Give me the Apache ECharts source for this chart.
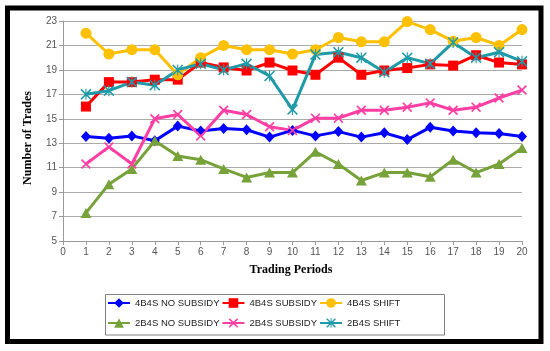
<!DOCTYPE html>
<html>
<head>
<meta charset="utf-8">
<script src="https://cdn.jsdelivr.net/npm/echarts@6/dist/echarts.min.js"></script>
<style>
html,body{margin:0;padding:0;background:#fff;}
#chart{width:550px;height:351px;}
</style>
</head>
<body>
<div id="chart"></div>
<script>
// ---- data ----
const periods = [1,2,3,4,5,6,7,8,9,10,11,12,13,14,15,16,17,18,19,20];
const seriesNames = ['4B4S NO SUBSIDY','4B4S SUBSIDY','4B4S SHIFT','2B4S NO SUBSIDY','2B4S SUBSIDY','2B4S SHIFT'];
const noSubsidy4 = [13.55,13.4,13.6,13.2,14.4,14.0,14.2,14.1,13.5,14.05,13.6,13.95,13.5,13.85,13.3,14.3,14.0,13.85,13.8,13.55];
const subsidy4   = [16.0,18.0,18.0,18.2,18.2,19.6,19.2,18.95,19.6,18.95,18.6,20.0,18.6,18.95,19.15,19.45,19.35,20.2,19.6,19.45];
const shift4     = [22.0,20.3,20.65,20.65,18.6,20.0,21.0,20.65,20.65,20.3,20.65,21.65,21.3,21.3,22.95,22.3,21.35,21.65,21.0,22.3];
const noSubsidy2 = [7.3,9.65,10.9,13.2,11.95,11.65,10.9,10.2,10.6,10.6,12.3,11.3,9.95,10.6,10.6,10.25,11.65,10.6,11.3,12.6];
const subsidy2   = [11.3,12.7,11.3,15.0,15.35,13.6,15.7,15.35,14.35,14.05,15.05,15.05,15.7,15.7,15.95,16.3,15.7,15.95,16.7,17.35];
const shift2     = [17.0,17.3,18.0,17.75,19.0,19.5,19.0,19.5,18.5,15.75,20.25,20.45,20.0,18.8,20.0,19.5,21.25,20.0,20.45,19.7];
const yTicks = [5,7,9,11,13,15,17,19,21,23];

const colors = ['#0000FF','#FF0000','#FFC000','#77A23A','#FF3FA4','#1F9AA8'];
const xPath = 'path://M0,0.12 L0.12,0 L0.5,0.38 L0.88,0 L1,0.12 L0.62,0.5 L1,0.88 L0.88,1 L0.5,0.62 L0.12,1 L0,0.88 L0.38,0.5 Z';
const starPath = 'path://M0.45,0 L0.55,0 L0.55,1 L0.45,1 Z M0,0.1 L0.1,0 L1,0.9 L0.9,1 Z M0.9,0 L1,0.1 L0.1,1 L0,0.9 Z';
const symbols = ['diamond','rect','circle','triangle',xPath,starPath];
const sizes = [[10,11],10,11,[11,10],10,11];
const allData = [noSubsidy4, subsidy4, shift4, noSubsidy2, subsidy2, shift2];

const chart = echarts.init(document.getElementById('chart'));
const series = allData.map((vals, i) => ({
  name: seriesNames[i],
  type: 'line',
  data: periods.map((p, j) => [p, vals[j]]),
  symbol: symbols[i],
  symbolSize: sizes[i],
  showSymbol: true,
  lineStyle: { color: colors[i], width: 3 },
  itemStyle: { color: colors[i], borderWidth: 0 },
  emphasis: { disabled: true }
}));

const legendText = { fontFamily: 'Liberation Sans', fontSize: 9.5, color: '#222', width: 84, overflow: 'none' };
function legendRow(names, top) {
  return {
    orient: 'horizontal', left: 107, top: top, padding: 0,
    itemWidth: 22, itemHeight: 12, itemGap: 2,
    data: names, textStyle: legendText, selectedMode: false
  };
}

chart.setOption({
  animation: false,
  backgroundColor: '#fff',
  color: colors,
  grid: { left: 63, right: 28, top: 21, bottom: 110, containLabel: false },
  xAxis: {
    type: 'value', min: 0, max: 20, interval: 1,
    axisLine: { lineStyle: { color: '#9a9a9a', width: 1 } },
    axisTick: { show: true, length: 4, lineStyle: { color: '#9a9a9a' } },
    axisLabel: { color: '#555', fontFamily: 'Liberation Sans', fontSize: 10, margin: 6 },
    splitLine: { show: false }
  },
  yAxis: {
    type: 'value', min: 5, max: 23, interval: 2,
    axisLine: { show: true, lineStyle: { color: '#9a9a9a', width: 1 } },
    axisTick: { show: true, length: 4, lineStyle: { color: '#9a9a9a' } },
    axisLabel: { color: '#555', fontFamily: 'Liberation Sans', fontSize: 10, margin: 6 },
    splitLine: { show: true, lineStyle: { color: '#aaaaaa', width: 1 } }
  },
  legend: [legendRow(seriesNames.slice(0,3), 298), legendRow(seriesNames.slice(3,6), 318)],
  graphic: [
    { type: 'rect', shape: { x: 7.5, y: 8, width: 533.5, height: 333.5 }, style: { fill: 'none', stroke: '#000', lineWidth: 5 }, silent: true },
    { type: 'rect', shape: { x: 105.5, y: 294.5, width: 339, height: 40.5 }, style: { fill: 'none', stroke: '#808080', lineWidth: 1 }, silent: true },
    { type: 'text', x: 28, y: 138, rotation: Math.PI / 2,
      style: { text: 'Number of Trades', font: 'bold 12px "Liberation Serif"', fill: '#000', align: 'center', verticalAlign: 'middle' } },
    { type: 'text', x: 291, y: 270,
      style: { text: 'Trading Periods', font: 'bold 12px "Liberation Serif"', fill: '#000', align: 'center', verticalAlign: 'middle' } }
  ],
  series: series
});
</script>
</body>
</html>
